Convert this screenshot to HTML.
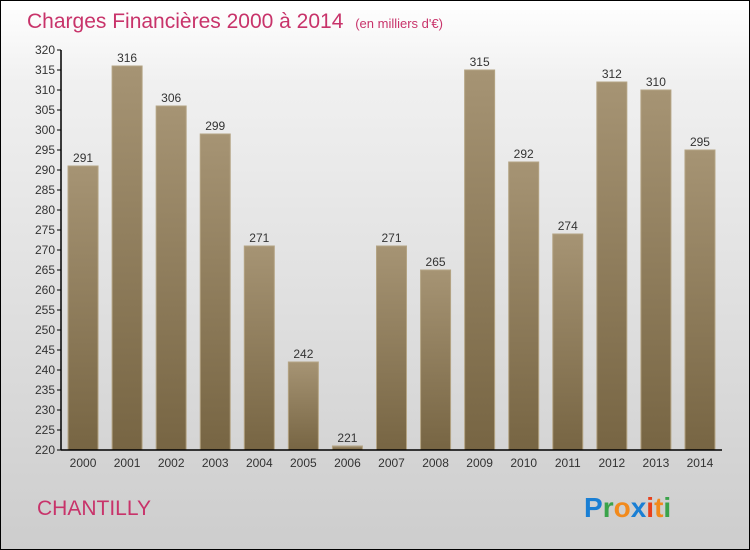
<!DOCTYPE html>
<html><head><meta charset="utf-8"><style>
body{margin:0;}
#wrap{position:relative;width:748px;height:548px;border:1px solid #000;background:linear-gradient(#fff,#f0f0f0 15%,#cdcdcd);font-family:"Liberation Sans",sans-serif;overflow:hidden}
</style></head><body>
<div id="wrap">
<svg id="chart" width="748" height="548">
<defs><linearGradient id="bg" x1="0" y1="0" x2="0" y2="1"><stop offset="0" stop-color="#a69474"/><stop offset="1" stop-color="#776543"/></linearGradient></defs>
<text x="26" y="27" font-size="21" fill="#c8336a">Charges Financières 2000 à 2014 <tspan font-size="13" dx="6">(en milliers d'€)</tspan></text>
<text x="36" y="514" font-size="21" fill="#c8336a">CHANTILLY</text>
<g font-size="28" font-weight="bold">
<text x="583" y="516" fill="#1a7fd4">P<tspan fill="#3aa34a">r</tspan><tspan fill="#f28a1c">o</tspan><tspan fill="#1a7fd4">x</tspan><tspan fill="#e8401c">i</tspan><tspan fill="#f28a1c">t</tspan><tspan fill="#3aa34a">i</tspan></text>
</g>
<g id="bars"></g><g id="axes"></g>
</svg></div>
<script>
const years=["2000","2001","2002","2003","2004","2005","2006","2007","2008","2009","2010","2011","2012","2013","2014"];
const values=[291,316,306,299,271,242,221,271,265,315,292,274,312,310,295];
const yTicks=[220,225,230,235,240,245,250,255,260,265,270,275,280,285,290,295,300,305,310,315,320];
const NS="http://www.w3.org/2000/svg";
const x0=60,x1=721,yB=449,yT=49,vMin=220,vMax=320;
const y=v=>yB-(v-vMin)/(vMax-vMin)*(yB-yT);
const step=(x1-x0)/years.length;
const xc=i=>x0+step*(i+0.5);
function mk(t,a,p){const e=document.createElementNS(NS,t);for(const k in a)e.setAttribute(k,a[k]);p.appendChild(e);return e;}
const bars=document.getElementById('bars'),axes=document.getElementById('axes');
values.forEach((v,i)=>{
 const r=mk('rect',{x:xc(i)-15,y:y(v),width:30,height:yB-y(v),fill:'url(#bg)',stroke:'#b4a484','stroke-width':1},bars);
 
 
 const t=mk('text',{x:xc(i),y:y(v)-4,'text-anchor':'middle','font-size':12,fill:'#333'},bars);
 t.textContent=v;
 
 
 const xl=mk('text',{x:xc(i),y:yB+17,'text-anchor':'middle','font-size':12,fill:'#333'},axes);
 xl.textContent=years[i];
 
 
});
const ya=mk('line',{x1:x0,y1:yT,x2:x0,y2:yB,stroke:'#000','stroke-width':1.5},axes);


const xa=mk('line',{x1:x0,y1:yB,x2:x1,y2:yB,stroke:'#000','stroke-width':1.5},axes);


yTicks.forEach(v=>{
 mk('line',{x1:x0-4,y1:y(v),x2:x0,y2:y(v),stroke:'#000'},axes);
 const t=mk('text',{x:x0-6,y:y(v)+4,'text-anchor':'end','font-size':12,fill:'#333'},axes);
 t.textContent=v;
 
 
});
</script>
</body></html>
